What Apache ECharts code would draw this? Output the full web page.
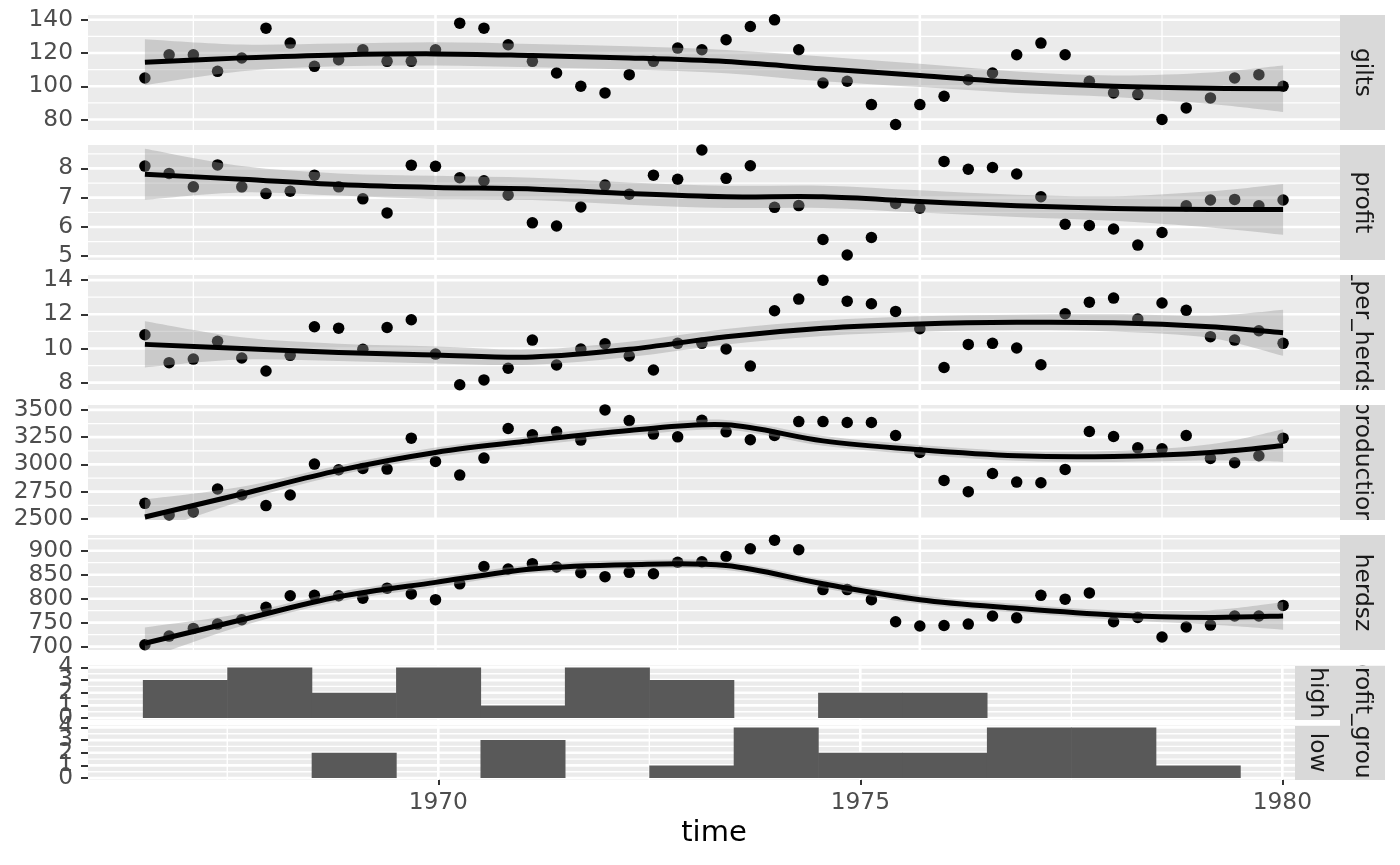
<!DOCTYPE html>
<html><head><meta charset="utf-8">
<script src="https://cdn.jsdelivr.net/npm/echarts@6/dist/echarts.min.js"></script>
<style>html,body{margin:0;padding:0;background:#fff}#chart{width:1400px;height:865px}</style>
</head><body><div id="chart"></div>
<script>
// ---------- data ----------
const time = [1967,1967.25,1967.5,1967.75,1968,1968.25,1968.5,1968.75,1969,1969.25,1969.5,1969.75,
  1970,1970.25,1970.5,1970.75,1971,1971.25,1971.5,1971.75,1972,1972.25,1972.5,1972.75,
  1973,1973.25,1973.5,1973.75,1974,1974.25,1974.5,1974.75,1975,1975.25,1975.5,1975.75,
  1976,1976.25,1976.5,1976.75,1977,1977.25,1977.5,1977.75,1978,1978.25,1978.5,1978.75];

const gilts = [105,119,119,109,117,135,126,112,116,122,115,115,122,138,
  135,125,115,108,100,96,107,115,123,122,128,136,140,122,102,103,89,77,89,
  94,104,108,119,126,119,103,96,95,80,87,93,105,107,100];
const profit = [8.08,7.83,7.37,8.12,7.37,7.14,7.22,7.77,7.37,6.96,6.48,8.11,8.07,7.68,
  7.58,7.09,6.14,6.03,6.68,7.43,7.12,7.77,7.63,8.63,7.66,8.09,6.67,6.73,5.57,5.04,5.64,6.80,6.64,
  8.24,7.97,8.03,7.81,7.03,6.09,6.05,5.93,5.38,5.81,6.72,6.92,6.94,6.72,6.92];
const sPerHerdsz = [10.8,9.17,9.38,10.42,9.44,8.68,9.6,11.27,11.19,9.95,11.23,11.68,9.67,7.88,
  8.16,8.84,10.49,9.03,9.97,10.28,9.56,8.74,10.3,10.3,9.97,8.97,12.21,12.89,14.0,12.77,12.62,12.17,11.16,
  8.89,10.24,10.3,10.03,9.05,12.03,12.71,12.95,11.72,12.66,12.23,10.69,10.49,11.04,10.3];
const production = [2643,2537,2564,2774,2722,2622,2719,3003,2951,2963,2957,3241,3027,2902,
  3058,3329,3271,3299,3223,3500,3402,3278,3253,3405,3299,3226,3265,3393,3393,3384,3384,3265,3110,
  2853,2750,2917,2838,2832,2954,3302,3256,3152,3143,3265,3055,3015,3079,3241];
const herdsz = [704,722,738,747,756,782,806,807,806,801,822,810,798,831,
  867,862,873,866,854,846,855,852,876,877,888,904,922,902,819,819,798,752,743,
  744,747,764,760,807,799,812,752,761,720,741,745,764,764,786];

// loess fit and half-width of its confidence band, read at these times
const fitTime = [1967,1968,1969,1970,1971,1972,1973,1974,1975,1976,1977,1978,1978.75];
const giltsFit = [114.5,117.1,118.9,119.5,118.5,117.1,114.9,110.5,106.5,102.4,100.0,98.8,98.5];
const giltsHalf = [13.8,8.0,6.8,7.0,7.0,7.0,7.0,7.5,7.0,6.5,6.5,9.5,14.0];
const profitFit = [7.80,7.63,7.45,7.35,7.30,7.14,7.03,7.03,6.87,6.72,6.63,6.60,6.60];
const profitHalf = [0.87,0.45,0.38,0.40,0.38,0.38,0.38,0.38,0.38,0.38,0.42,0.62,0.87];
const sFit = [10.24,10.0,9.77,9.62,9.5,9.95,10.69,11.18,11.43,11.53,11.5,11.27,10.92];
const sHalf = [1.35,0.65,0.5,0.5,0.45,0.45,0.45,0.45,0.45,0.45,0.5,0.65,1.35];
const prodFit = [2518,2729,2945,3110,3219,3311,3363,3216,3134,3079,3073,3110,3173];
const prodHalf = [160,65,45,45,45,45,45,45,45,45,50,75,150];
const herdsFit = [707,756,804,834,862,871,869,831,798,780,766,761,764];
const herdsHalf = [33,13,10,10,9,9,9,9,9,9,10,15,29];

// histogram of time by profit_group (binwidth 1)
const binStart = [1966.5,1967.5,1968.5,1969.5,1970.5,1971.5,1972.5,1973.5,1974.5,1975.5,1976.5,1977.5,1978.5];
const binWidth = 1;
const highCounts = [3,4,2,4,1,4,3,0,2,2,0,0,0];
const lowCounts = [0,0,2,0,3,0,1,4,2,2,4,4,1];

// tick / gridline values
const giltsTicks = [80,100,120,140], giltsMinor = [90,110,130];
const profitTicks = [5,6,7,8], profitMinor = [5.5,6.5,7.5,8.5];
const sTicks = [8,10,12,14], sMinor = [9,11,13];
const prodTicks = [2500,2750,3000,3250,3500], prodMinor = [2625,2875,3125,3375];
const herdsTicks = [700,750,800,850,900], herdsMinor = [725,775,825,875,925];
const countTicks = [0,1,2,3,4], countMinor = [0.5,1.5,2.5,3.5];
const timeTicks = [1970,1975,1980], timeMinor = [1967.5,1972.5,1977.5];

// ---------- layout ----------
const FONT = 'DejaVu Sans';
const TXT = 23.3;
const topXRange = [1966.4125, 1979.3375];
const botXRange = [1965.85, 1980.15];
const countRange = [-0.15, 4.15];
const panels = [
  {label:'gilts', v:gilts, fit:giltsFit, half:giltsHalf, min:73.7, max:142.9, ticks:giltsTicks, minor:giltsMinor, top:15},
  {label:'profit', v:profit, fit:profitFit, half:profitHalf, min:4.87, max:8.80, ticks:profitTicks, minor:profitMinor, top:145},
  {label:'s_per_herdsz', v:sPerHerdsz, fit:sFit, half:sHalf, min:7.57, max:14.3, ticks:sTicks, minor:sMinor, top:275},
  {label:'production', v:production, fit:prodFit, half:prodHalf, min:2490, max:3545, ticks:prodTicks, minor:prodMinor, top:405},
  {label:'herdsz', v:herdsz, fit:herdsFit, half:herdsHalf, min:693, max:932.8, ticks:herdsTicks, minor:herdsMinor, top:535}
];
const hists = [
  {label:'high', counts:highCounts, top:665.5},
  {label:'low', counts:lowCounts, top:725.5}
];

const grids = [], xAxes = [], yAxes = [], series = [], extraY = [];

// cubic (Catmull-Rom) path through pixel points, drawing only
function curveCmds(pts, startCmd) {
  let d = startCmd + pts[0][0] + ' ' + pts[0][1];
  for (let i = 0; i < pts.length - 1; i++) {
    const p0 = pts[i - 1] || pts[i], p1 = pts[i], p2 = pts[i + 1], p3 = pts[i + 2] || pts[i + 1];
    const c1 = [p1[0] + (p2[0] - p0[0]) / 6, p1[1] + (p2[1] - p0[1]) / 6];
    const c2 = [p2[0] - (p3[0] - p1[0]) / 6, p2[1] - (p3[1] - p1[1]) / 6];
    d += ' C' + c1[0] + ' ' + c1[1] + ' ' + c2[0] + ' ' + c2[1] + ' ' + p2[0] + ' ' + p2[1];
  }
  return d;
}

function gridSeries(idx, xr, yr, yMaj, yMin, xMaj, xMin) {
  const data = [];
  yMaj.forEach(v => data.push([0, v, 1]));
  yMin.forEach(v => data.push([0, v, 0]));
  xMaj.forEach(v => data.push([1, v, 1]));
  xMin.forEach(v => data.push([1, v, 0]));
  return {
    type:'custom', xAxisIndex:idx, yAxisIndex:idx, z:1, silent:true, animation:false,
    data: data,
    renderItem: function(params, api) {
      const cs = params.coordSys;
      const dir = api.value(0), v = api.value(1), major = api.value(2);
      const lw = major ? 2.6 : 1.3;
      if (dir === 0) {
        const y = api.coord([xr[0], v])[1];
        if (y < cs.y - 0.5 || y > cs.y + cs.height + 0.5) return null;
        return {type:'line', shape:{x1:cs.x, y1:y, x2:cs.x+cs.width, y2:y}, style:{stroke:'#FFFFFF', lineWidth:lw}};
      } else {
        const x = api.coord([v, yr[0]])[0];
        if (x < cs.x - 0.5 || x > cs.x + cs.width + 0.5) return null;
        return {type:'line', shape:{x1:x, y1:cs.y, x2:x, y2:cs.y+cs.height}, style:{stroke:'#FFFFFF', lineWidth:lw}};
      }
    }
  };
}

function yAxisDef(idx, min, max, ticks, labels, showTicks) {
  return {
    gridIndex:idx, type:'value', min:min, max:max, position:'left', offset:0,
    axisLine:{show:false},
    axisTick:{show:showTicks, length:7, lineStyle:{color:'#333333', width:2}, customValues:ticks},
    axisLabel:{show:true, customValues:labels, color:'#4D4D4D', fontSize:TXT, fontFamily:FONT, margin:15,
      showMinLabel:true, showMaxLabel:true, hideOverlap:false, formatter: v => String(v)},
    splitLine:{show:false}
  };
}

panels.forEach((p, i) => {
  grids.push({left:88, top:p.top, width:1252, height:115, show:true, backgroundColor:'#EBEBEB', borderWidth:0});
  xAxes.push({gridIndex:i, type:'value', min:topXRange[0], max:topXRange[1],
    axisLine:{show:false}, axisTick:{show:false}, axisLabel:{show:false}, splitLine:{show:false}});
  yAxes.push(yAxisDef(i, p.min, p.max, p.ticks, p.ticks, true));
  series.push(gridSeries(i, topXRange, [p.min, p.max], p.ticks, p.minor, [1970,1975], timeMinor));
  series.push({type:'scatter', xAxisIndex:i, yAxisIndex:i, z:2, silent:true, animation:false,
    symbolSize:11.5, itemStyle:{color:'#000000', opacity:1},
    data: time.map((t, k) => [t, p.v[k]])});
  // confidence ribbon (grey60, alpha 0.4) drawn over the points, then the fit line
  series.push({type:'custom', xAxisIndex:i, yAxisIndex:i, z:3, silent:true, animation:false, clip:true,
    data: fitTime.map((t, k) => [t, p.fit[k]]),
    renderItem: function(params, api) {
      if (params.dataIndex !== 0) return null;
      const up = fitTime.map((t, k) => api.coord([t, p.fit[k] + p.half[k]]));
      const lo = fitTime.map((t, k) => api.coord([t, p.fit[k] - p.half[k]])).reverse();
      const d = curveCmds(up, 'M') + ' ' + curveCmds(lo, 'L') + ' Z';
      return {type:'path', shape:{pathData:d}, style:{fill:'rgba(153,153,153,0.4)', stroke:null}};
    }});
  series.push({type:'custom', xAxisIndex:i, yAxisIndex:i, z:4, silent:true, animation:false, clip:true,
    data: fitTime.map((t, k) => [t, p.fit[k]]),
    renderItem: function(params, api) {
      if (params.dataIndex !== 0) return null;
      const pts = fitTime.map((t, k) => api.coord([t, p.fit[k]]));
      return {type:'path', shape:{pathData:curveCmds(pts, 'M')},
        style:{fill:null, stroke:'#000000', lineWidth:5, lineCap:'butt', lineJoin:'round'}};
    }});
});

const evenCounts = countTicks.filter((v, k) => k % 2 === 0);
const oddCounts = countTicks.filter((v, k) => k % 2 === 1);

hists.forEach((h, j) => {
  const i = panels.length + j;
  const isLast = j === hists.length - 1;
  grids.push({left:88, top:h.top, width:1207, height:54.5, show:true, backgroundColor:'#EBEBEB', borderWidth:0});
  xAxes.push({gridIndex:i, type:'value', min:botXRange[0], max:botXRange[1],
    axisLine:{show:false},
    axisTick:{show:isLast, length:7, lineStyle:{color:'#333333', width:2}, customValues:timeTicks},
    axisLabel:{show:isLast, customValues:timeTicks, color:'#4D4D4D', fontSize:TXT, fontFamily:FONT, margin:11,
      showMinLabel:true, showMaxLabel:true, formatter: v => String(v)},
    splitLine:{show:false}});
  // labels split over two coincident axes so ECharts keeps every (overlapping) label
  yAxes.push(yAxisDef(i, countRange[0], countRange[1], countTicks, evenCounts, true));
  extraY.push(yAxisDef(i, countRange[0], countRange[1], countTicks, oddCounts, false));
  series.push(gridSeries(i, botXRange, countRange, countTicks, countMinor, timeTicks, timeMinor));
  series.push({type:'custom', xAxisIndex:i, yAxisIndex:i, z:2, silent:true, animation:false,
    data: binStart.map((b, k) => [b, h.counts[k]]),
    renderItem: function(params, api) {
      const b = api.value(0), c = api.value(1);
      if (!c) return null;
      const p0 = api.coord([b, 0]);
      const p1 = api.coord([b + binWidth, c]);
      // tiny overlap hides the anti-aliasing seam between adjacent bins
      return {type:'rect', shape:{x:p0[0], y:p1[1], width:p1[0]-p0[0]+0.6, height:p0[1]-p1[1]}, style:{fill:'#595959'}};
    }});
});

// facet strips (text clipped to the strip, as in ggplot)
const strips = panels.map(p => ({label:p.label, left:1340, top:p.top, width:45, height:115}))
  .concat(hists.map(h => ({label:h.label, left:1295, top:h.top, width:45, height:54.5})))
  .concat([{label:'profit_group', left:1340, top:665.5, width:45, height:114.5}]);

strips.forEach(s => {
  const i = grids.length;
  grids.push({left:s.left, top:s.top, width:s.width, height:s.height, show:false});
  xAxes.push({gridIndex:i, type:'value', min:0, max:1, show:false});
  yAxes.push({gridIndex:i, type:'value', min:0, max:1, show:false});
  series.push({type:'custom', xAxisIndex:i, yAxisIndex:i, clip:true, z:5, silent:true, animation:false,
    data:[[0.5, 0.5]],
    renderItem: function(params, api) {
      const cs = params.coordSys;
      return {type:'group', children:[
        {type:'rect', shape:{x:cs.x, y:cs.y, width:cs.width, height:cs.height}, style:{fill:'#D9D9D9'}},
        {type:'text', x:cs.x + cs.width/2, y:cs.y + cs.height/2, rotation:-Math.PI/2,
          style:{text:s.label, fontSize:TXT, fontFamily:FONT, fill:'#1A1A1A', align:'center', verticalAlign:'middle'}}
      ]};
    }});
});

extraY.forEach(a => yAxes.push(a));

const chart = echarts.init(document.getElementById('chart'), null, {renderer:'canvas'});
chart.setOption({
  animation:false,
  backgroundColor:'#FFFFFF',
  grid: grids, xAxis: xAxes, yAxis: yAxes, series: series,
  graphic: [{type:'text', x:714, y:833, silent:true,
    style:{text:'time', fontSize:29, fontFamily:FONT, fill:'#000000', align:'center', verticalAlign:'middle'}}]
});
</script></body></html>
